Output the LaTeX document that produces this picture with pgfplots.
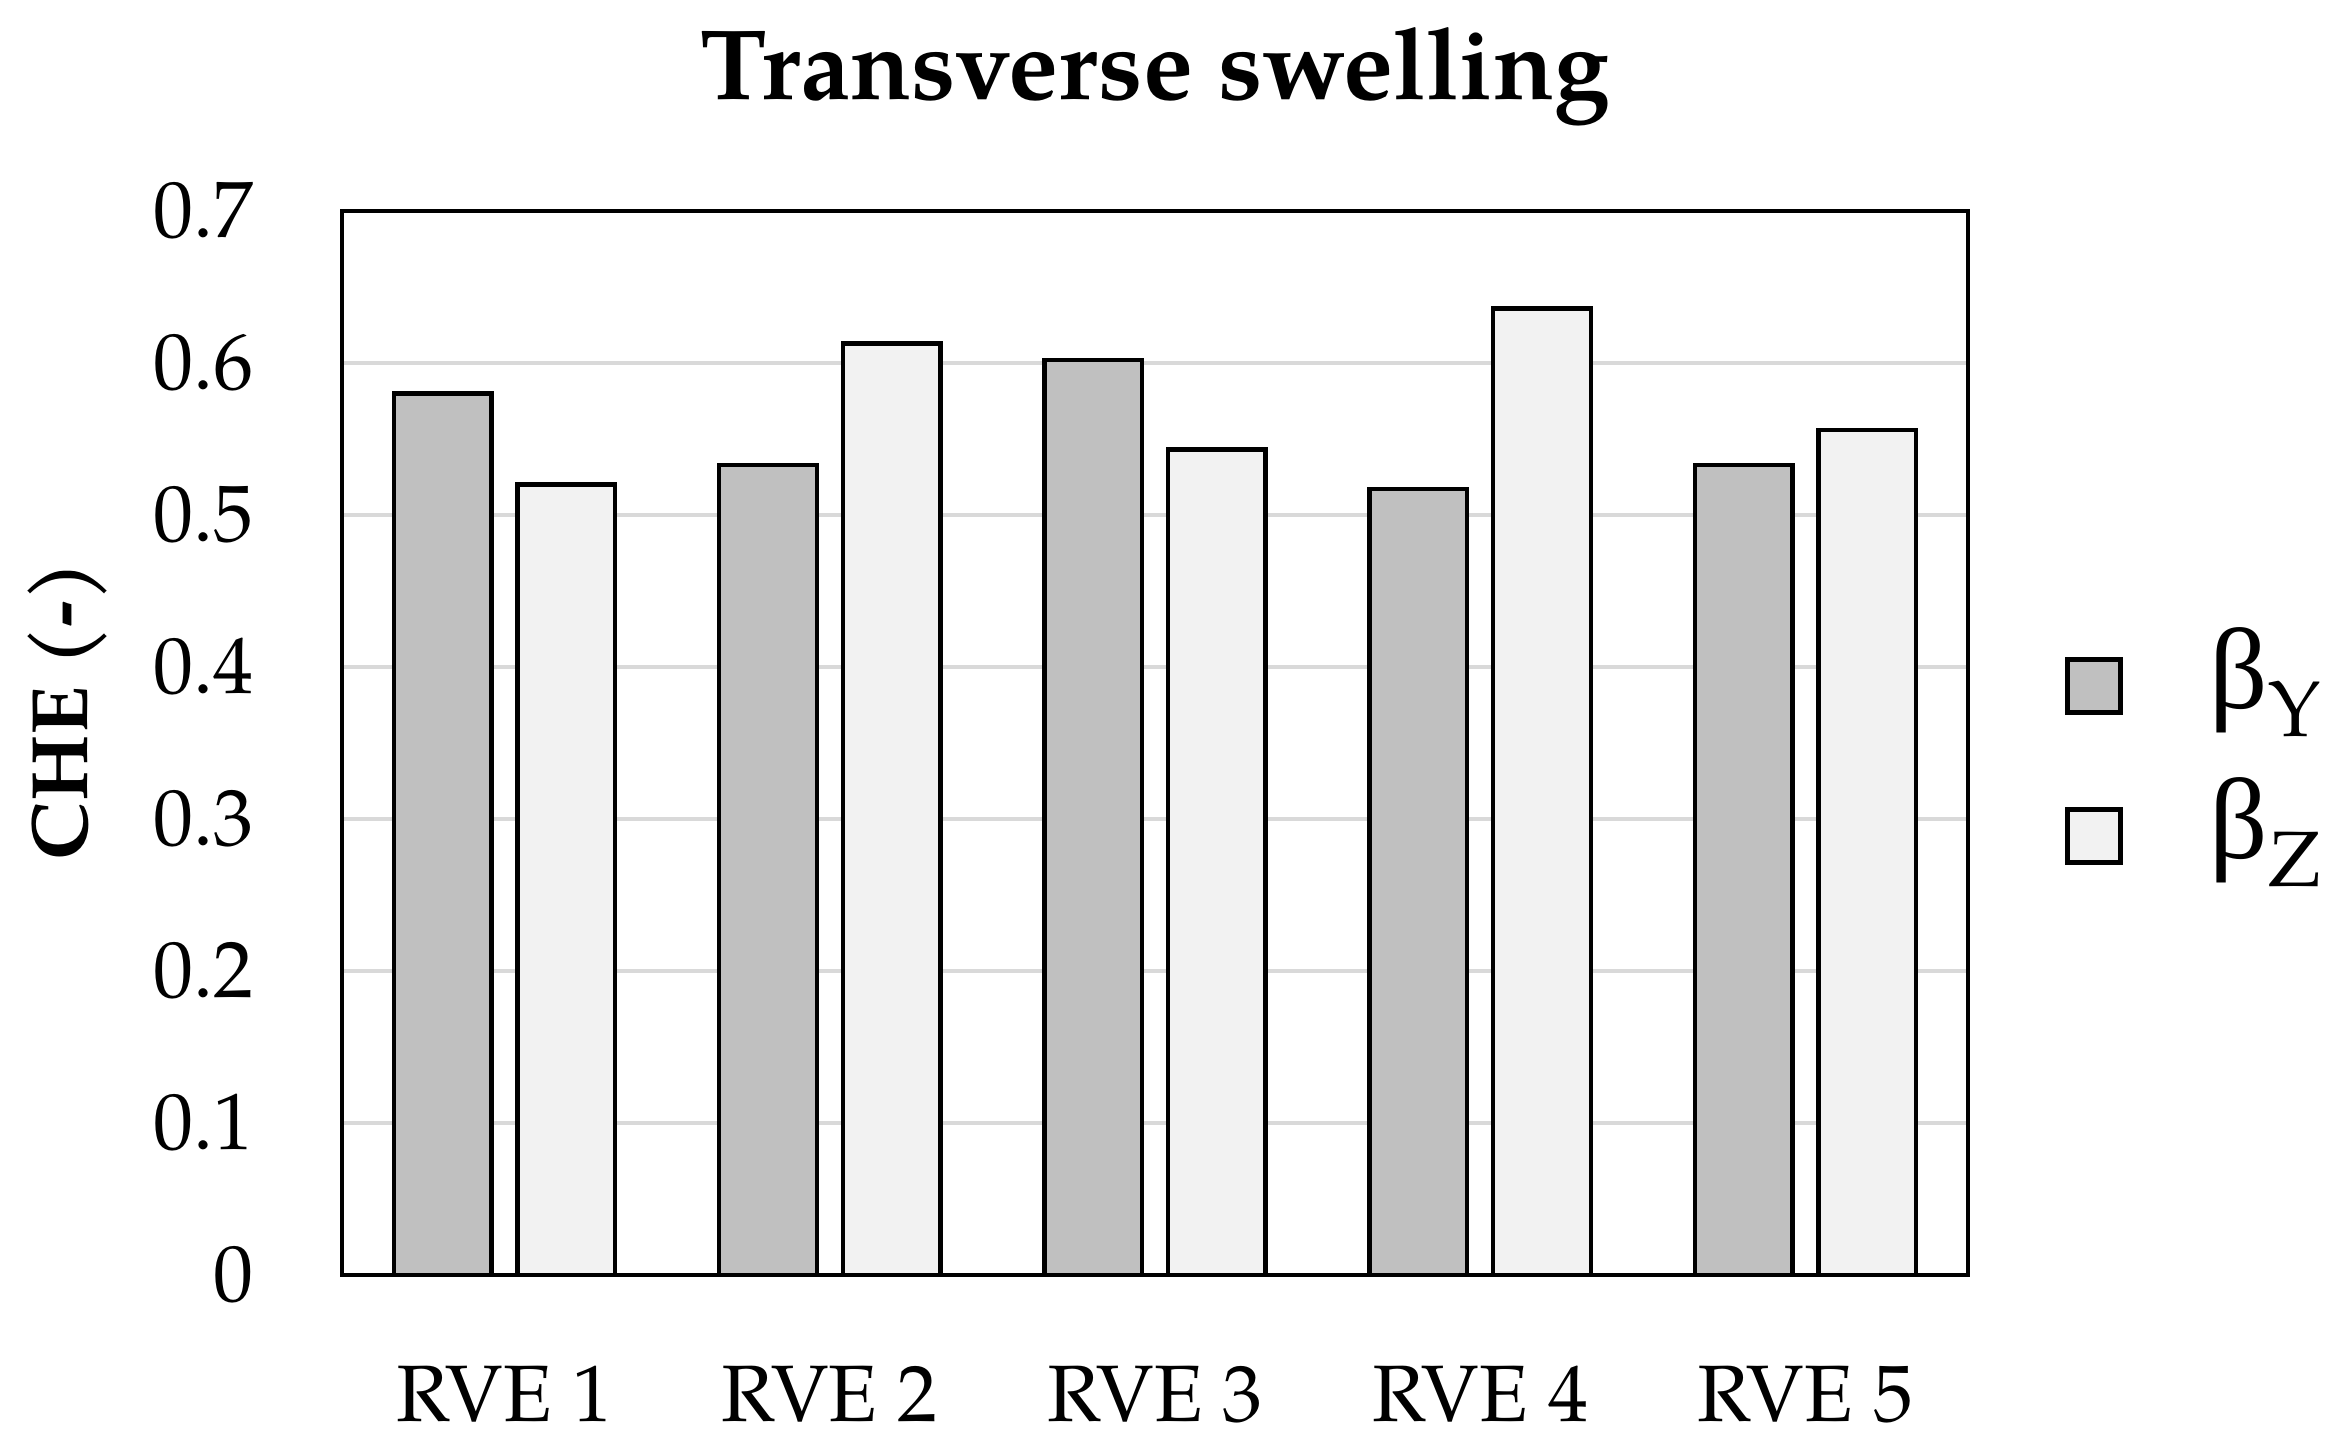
\documentclass[border=0pt]{standalone}
\usepackage{fontspec}
\setmainfont{TeX Gyre Pagella}
\newfontfamily\grk{Liberation Serif}
\usepackage{pgfplots}
\pgfplotsset{compat=1.18}
\definecolor{barY}{HTML}{C0C0C0}
\definecolor{barZ}{HTML}{F2F2F2}
\definecolor{gridc}{HTML}{D9D9D9}
\begin{document}
\begin{tikzpicture}
\useasboundingbox (0,0) rectangle (467.6pt,290.6pt);
\begin{axis}[
  at={(68.4pt,35.6pt)}, anchor=south west,
  scale only axis, width=325.2pt, height=212.8pt,
  xmin=-0.5, xmax=4.5, ymin=0, ymax=0.7,
  xtick={0,1,2,3,4},
  xticklabels={RVE 1,RVE 2,RVE 3,RVE 4,RVE 5},
  ytick={0,0.1,0.2,0.3,0.4,0.5,0.6,0.7},
  yticklabels={0,0.1,0.2,0.3,0.4,0.5,0.6,0.7},
  major tick length=0pt,
  ymajorgrids, grid style={gridc, line width=0.9pt},
  axis line style={line width=0.9pt},
  axis on top=false,
  ticklabel style={font=\fontsize{16}{18}\selectfont, inner sep=0pt},
  /pgf/number format/assume math mode=true,
  xticklabel style={anchor=base, yshift=-29.4pt},
  yticklabel style={anchor=east, xshift=-17.4pt},
  title={Transverse swelling},
  title style={font=\fontsize{20}{22}\selectfont\bfseries, at={(axis description cs:0.5,1)}, anchor=base, yshift=16.4pt, inner sep=0pt},
  ylabel={CHE (-)},
  ylabel style={font=\fontsize{16}{18}\selectfont\bfseries, at={(axis description cs:-0.1568,0.530)}, anchor=base, inner sep=0pt},
  ybar, bar width=0.3,
  legend cell align=left,
  legend style={at={(axis description cs:1,0.5)}, anchor=west, xshift=19.2pt, yshift=-8pt,
    draw=none, fill=none, inner sep=0pt, row sep=0pt, column sep=17.4pt,
    font=\fontsize{23}{24}\selectfont,
    nodes={inner sep=0pt, text height=15pt, text depth=15pt}},
  legend image code/.code={\draw[#1, line width=0.9pt] (0pt,-0.9pt) rectangle (10.6pt,9.7pt);},
]
\addplot[draw=black, line width=0.9pt, fill=barY, bar shift=-0.19] coordinates {(0,0.580) (1,0.533) (2,0.602) (3,0.517) (4,0.533)};
\addplot[draw=black, line width=0.9pt, fill=barZ, bar shift=0.19] coordinates {(0,0.520) (1,0.613) (2,0.543) (3,0.636) (4,0.556)};
\legend{{\grk β}\raisebox{-5.6pt}{\fontsize{15.7}{16}\selectfont Y},{\grk β}\raisebox{-5.6pt}{\fontsize{15.7}{16}\selectfont Z}}
\end{axis}
\end{tikzpicture}
\end{document}
